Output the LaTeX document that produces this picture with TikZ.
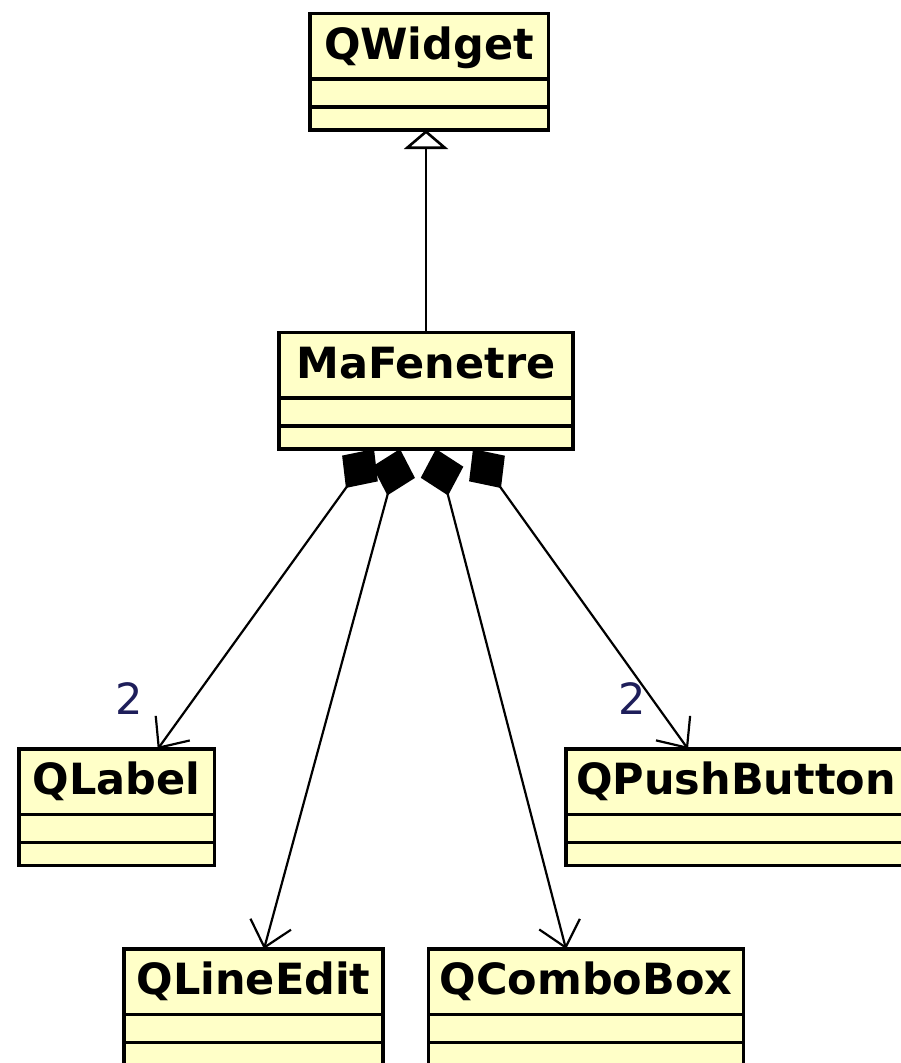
\documentclass[tikz,border=0pt]{standalone}
\usepackage{fontspec}
\setmainfont{DejaVu Sans}
\usetikzlibrary{positioning,arrows.meta}
\definecolor{classfill}{RGB}{255,255,200}
\definecolor{multblue}{RGB}{30,30,90}
\begin{document}
\begin{tikzpicture}[x=1pt,y=-1pt,
    classname/.style={draw,fill=classfill,line width=3.5pt,outer sep=0pt,inner sep=0pt,
      minimum height=65.5pt,text height=31pt,text depth=5pt,anchor=north,
      font=\fontsize{43}{50}\selectfont\bfseries},
    attrpart/.style={draw,fill=classfill,line width=3.5pt,outer sep=0pt,inner sep=0pt,
      minimum height=28pt,below=0pt of #1},
    oppart/.style={draw,fill=classfill,line width=3.5pt,outer sep=0pt,inner sep=0pt,
      minimum height=23pt,below=0pt of #1},
    generalize/.style={line width=2.6pt,-{Triangle[open,length=19pt,width=44pt]}},
    compose/.style={line width=2.2pt,{Diamond[length=48pt,width=44pt]}-{Straight Barb[length=24pt,width=42pt]}},
    mult/.style={inner sep=0pt,text=multblue,font=\fontsize{43}{50}\selectfont}]
    \useasboundingbox (0,0) rectangle (901,1063);
    \clip (0,0) rectangle (901,1063);

    \node[classname,minimum width=238.5pt] (qwidget) at (429,13.5) {QWidget};
    \node[attrpart=qwidget,minimum width=238.5pt] (qwidget-a) {};
    \node[oppart=qwidget-a,minimum width=238.5pt] (qwidget-b) {};

    \node[classname,minimum width=294pt] (mafenetre) at (426,332.5) {MaFenetre};
    \node[attrpart=mafenetre,minimum width=294pt] (mafenetre-a) {};
    \node[oppart=mafenetre-a,minimum width=294pt] (mafenetre-b) {};

    \node[classname,minimum width=195.5pt] (qlabel) at (116.75,749) {QLabel};
    \node[attrpart=qlabel,minimum width=195.5pt] (qlabel-a) {};
    \node[oppart=qlabel-a,minimum width=195.5pt] (qlabel-b) {};

    \node[classname,minimum width=340pt] (qpush) at (736,749) {QPushButton};
    \node[attrpart=qpush,minimum width=340pt] (qpush-a) {};
    \node[oppart=qpush-a,minimum width=340pt] (qpush-b) {};

    \node[classname,minimum width=259pt] (qlineedit) at (253.5,949) {QLineEdit};
    \node[attrpart=qlineedit,minimum width=259pt] (qlineedit-a) {};
    \node[oppart=qlineedit-a,minimum width=259pt] (qlineedit-b) {};

    \node[classname,minimum width=315pt] (qcombo) at (586,949) {QComboBox};
    \node[attrpart=qcombo,minimum width=315pt] (qcombo-a) {};
    \node[oppart=qcombo-a,minimum width=315pt] (qcombo-b) {};

    \draw[generalize] (mafenetre.north) -- (mafenetre.north |- qwidget-b.south);

    \draw[compose] ([xshift=-52pt]mafenetre-b.south) -- ([xshift=41pt]qlabel.north);
    \draw[compose] ([xshift=-26pt]mafenetre-b.south) -- ([xshift=10.5pt]qlineedit.north);
    \draw[compose] ([xshift=10pt]mafenetre-b.south) -- ([xshift=-20pt]qcombo.north);
    \draw[compose] ([xshift=47pt]mafenetre-b.south) -- ([xshift=-48pt]qpush.north);

    \node[mult] (qlabel-mult) at ([xshift=12pt,yshift=50pt]qlabel.north) {2};
    \node[mult] (qpush-mult) at ([xshift=-104pt,yshift=50pt]qpush.north) {2};
\end{tikzpicture}
\end{document}
